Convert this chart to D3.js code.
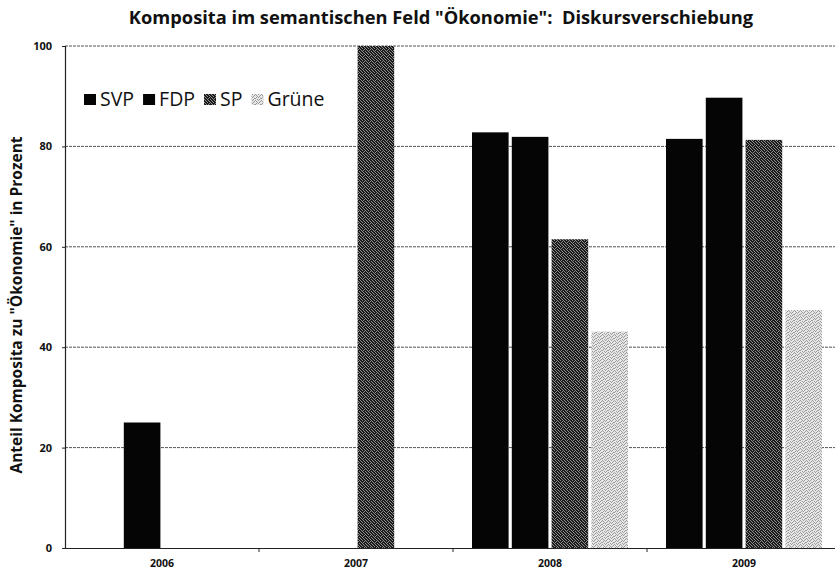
<!DOCTYPE html>
<html>
<head>
<meta charset="utf-8">
<script src="https://cdn.jsdelivr.net/npm/d3@7"></script>
<style>
  body { margin: 0; background: #fff; }
  text { font-family: "Open Sans", "Noto Sans", sans-serif; }
</style>
</head>
<body>
<svg id="chart" width="835" height="574"></svg>
<script>
// values
const years = ["2006", "2007", "2008", "2009"];
const parties = ["SVP", "FDP", "SP", "Grüne"];
const svp = [null, null, 82.8, 81.5];
const fdp = [25.0, null, 81.9, 89.7];
const sp = [null, 100, 61.5, 81.3];
const gruene = [null, null, 43.1, 47.4];
const yTicks = [0, 20, 40, 60, 80, 100];

const series = [svp, fdp, sp, gruene];

const svg = d3.select("#chart");
const margin = { top: 46, left: 65, bottom: 26 };
const plotW = 776;
const plotH = 574 - margin.top - margin.bottom;

// grainy fills for the grey bars (scanned look); rows of a 6x6 tile, 1 = dark dot
const defs = svg.append("defs");
function grain(id, dark, light, rows) {
  const p = defs.append("pattern")
    .attr("id", id)
    .attr("width", 6).attr("height", 6)
    .attr("patternUnits", "userSpaceOnUse");
  p.append("rect").attr("width", 6).attr("height", 6).attr("fill", light);
  rows.forEach((r, yy) => {
    r.split("").forEach((c, xx) => {
      if (c === "1") p.append("rect").attr("x", xx).attr("y", yy)
        .attr("width", 1).attr("height", 1).attr("fill", dark);
    });
  });
}
grain("spFill", "#1a1a1a", "#8e8e8e", ["101101", "110110", "011011", "101110", "110101", "011011"]);
grain("grFill", "#9c9c9c", "#e6e6e6", ["100100", "001010", "010001", "100010", "001100", "010001"]);

const fills = ["#050505", "#050505", "url(#spFill)", "url(#grFill)"];

const x = d3.scaleBand().domain(years).range([0, plotW]);
const xSub = d3.scaleBand()
  .domain(parties)
  .range([19, x.bandwidth() - 19])
  .paddingInner(0.08);
const y = d3.scaleLinear().domain([0, 100]).range([plotH, 0]);

const g = svg.append("g").attr("transform", `translate(${margin.left},${margin.top})`);

// gridlines
g.append("g")
  .selectAll("line")
  .data(yTicks.filter(d => d > 0))
  .join("line")
  .attr("x1", 0).attr("x2", plotW)
  .attr("y1", d => y(d)).attr("y2", d => y(d))
  .attr("stroke", "#555")
  .attr("stroke-width", 1)
  .attr("stroke-dasharray", "3,1");

// bars
const rows = [];
years.forEach((yr, i) => {
  parties.forEach((p, j) => {
    if (series[j][i] !== null) rows.push({ year: yr, party: p, idx: j, value: series[j][i] });
  });
});

g.append("g")
  .selectAll("rect")
  .data(rows)
  .join("rect")
  .attr("x", d => x(d.year) + xSub(d.party))
  .attr("y", d => y(d.value))
  .attr("width", xSub.bandwidth())
  .attr("height", d => y(0) - y(d.value))
  .attr("fill", d => fills[d.idx]);

// axes
const yAxis = g.append("g")
  .call(d3.axisLeft(y).tickValues(yTicks).tickSize(3).tickPadding(10));
yAxis.select(".domain").attr("stroke", "#222").attr("stroke-width", 1.2);
yAxis.selectAll(".tick line").attr("stroke", "#222");
yAxis.selectAll(".tick text")
  .attr("font-size", 11).attr("font-weight", "bold").attr("fill", "#111")
  .style("font-family", '"Open Sans", sans-serif');

const xAxis = g.append("g")
  .attr("transform", `translate(0,${plotH})`)
  .call(d3.axisBottom(x).tickSize(0).tickPadding(12));
xAxis.select(".domain").attr("stroke", "#222").attr("stroke-width", 1.2);
xAxis.selectAll(".tick text")
  .attr("font-size", 10.5).attr("font-weight", "bold").attr("fill", "#111")
  .style("font-family", '"Open Sans", sans-serif');

// small marks between categories
g.append("g")
  .selectAll("line")
  .data(years.slice(1))
  .join("line")
  .attr("x1", d => x(d)).attr("x2", d => x(d))
  .attr("y1", plotH).attr("y2", plotH + 4)
  .attr("stroke", "#222");

// title
svg.append("text")
  .attr("x", 441).attr("y", 24)
  .attr("text-anchor", "middle")
  .attr("font-size", 18.3)
  .attr("font-weight", "bold")
  .attr("fill", "#111")
  .style("white-space", "pre")
  .text('Komposita im semantischen Feld "Ökonomie":  Diskursverschiebung');

// y label
svg.append("text")
  .attr("transform", "translate(22,305) rotate(-90)")
  .attr("text-anchor", "middle")
  .attr("font-size", 15.5)
  .attr("font-weight", "bold")
  .attr("fill", "#111")
  .text('Anteil Komposita zu "Ökonomie" in Prozent');

// legend
const legend = svg.append("g").attr("transform", "translate(84,106)");
let lx = 0;
parties.forEach((p, j) => {
  legend.append("rect")
    .attr("x", lx).attr("y", -12)
    .attr("width", 12).attr("height", 11)
    .attr("fill", fills[j]);
  const t = legend.append("text")
    .attr("x", lx + 16).attr("y", 0)
    .attr("font-size", 19.5)
    .attr("fill", "#111")
    .text(p);
  lx += 16 + t.node().getComputedTextLength() + 9;
});
</script>
</body>
</html>
